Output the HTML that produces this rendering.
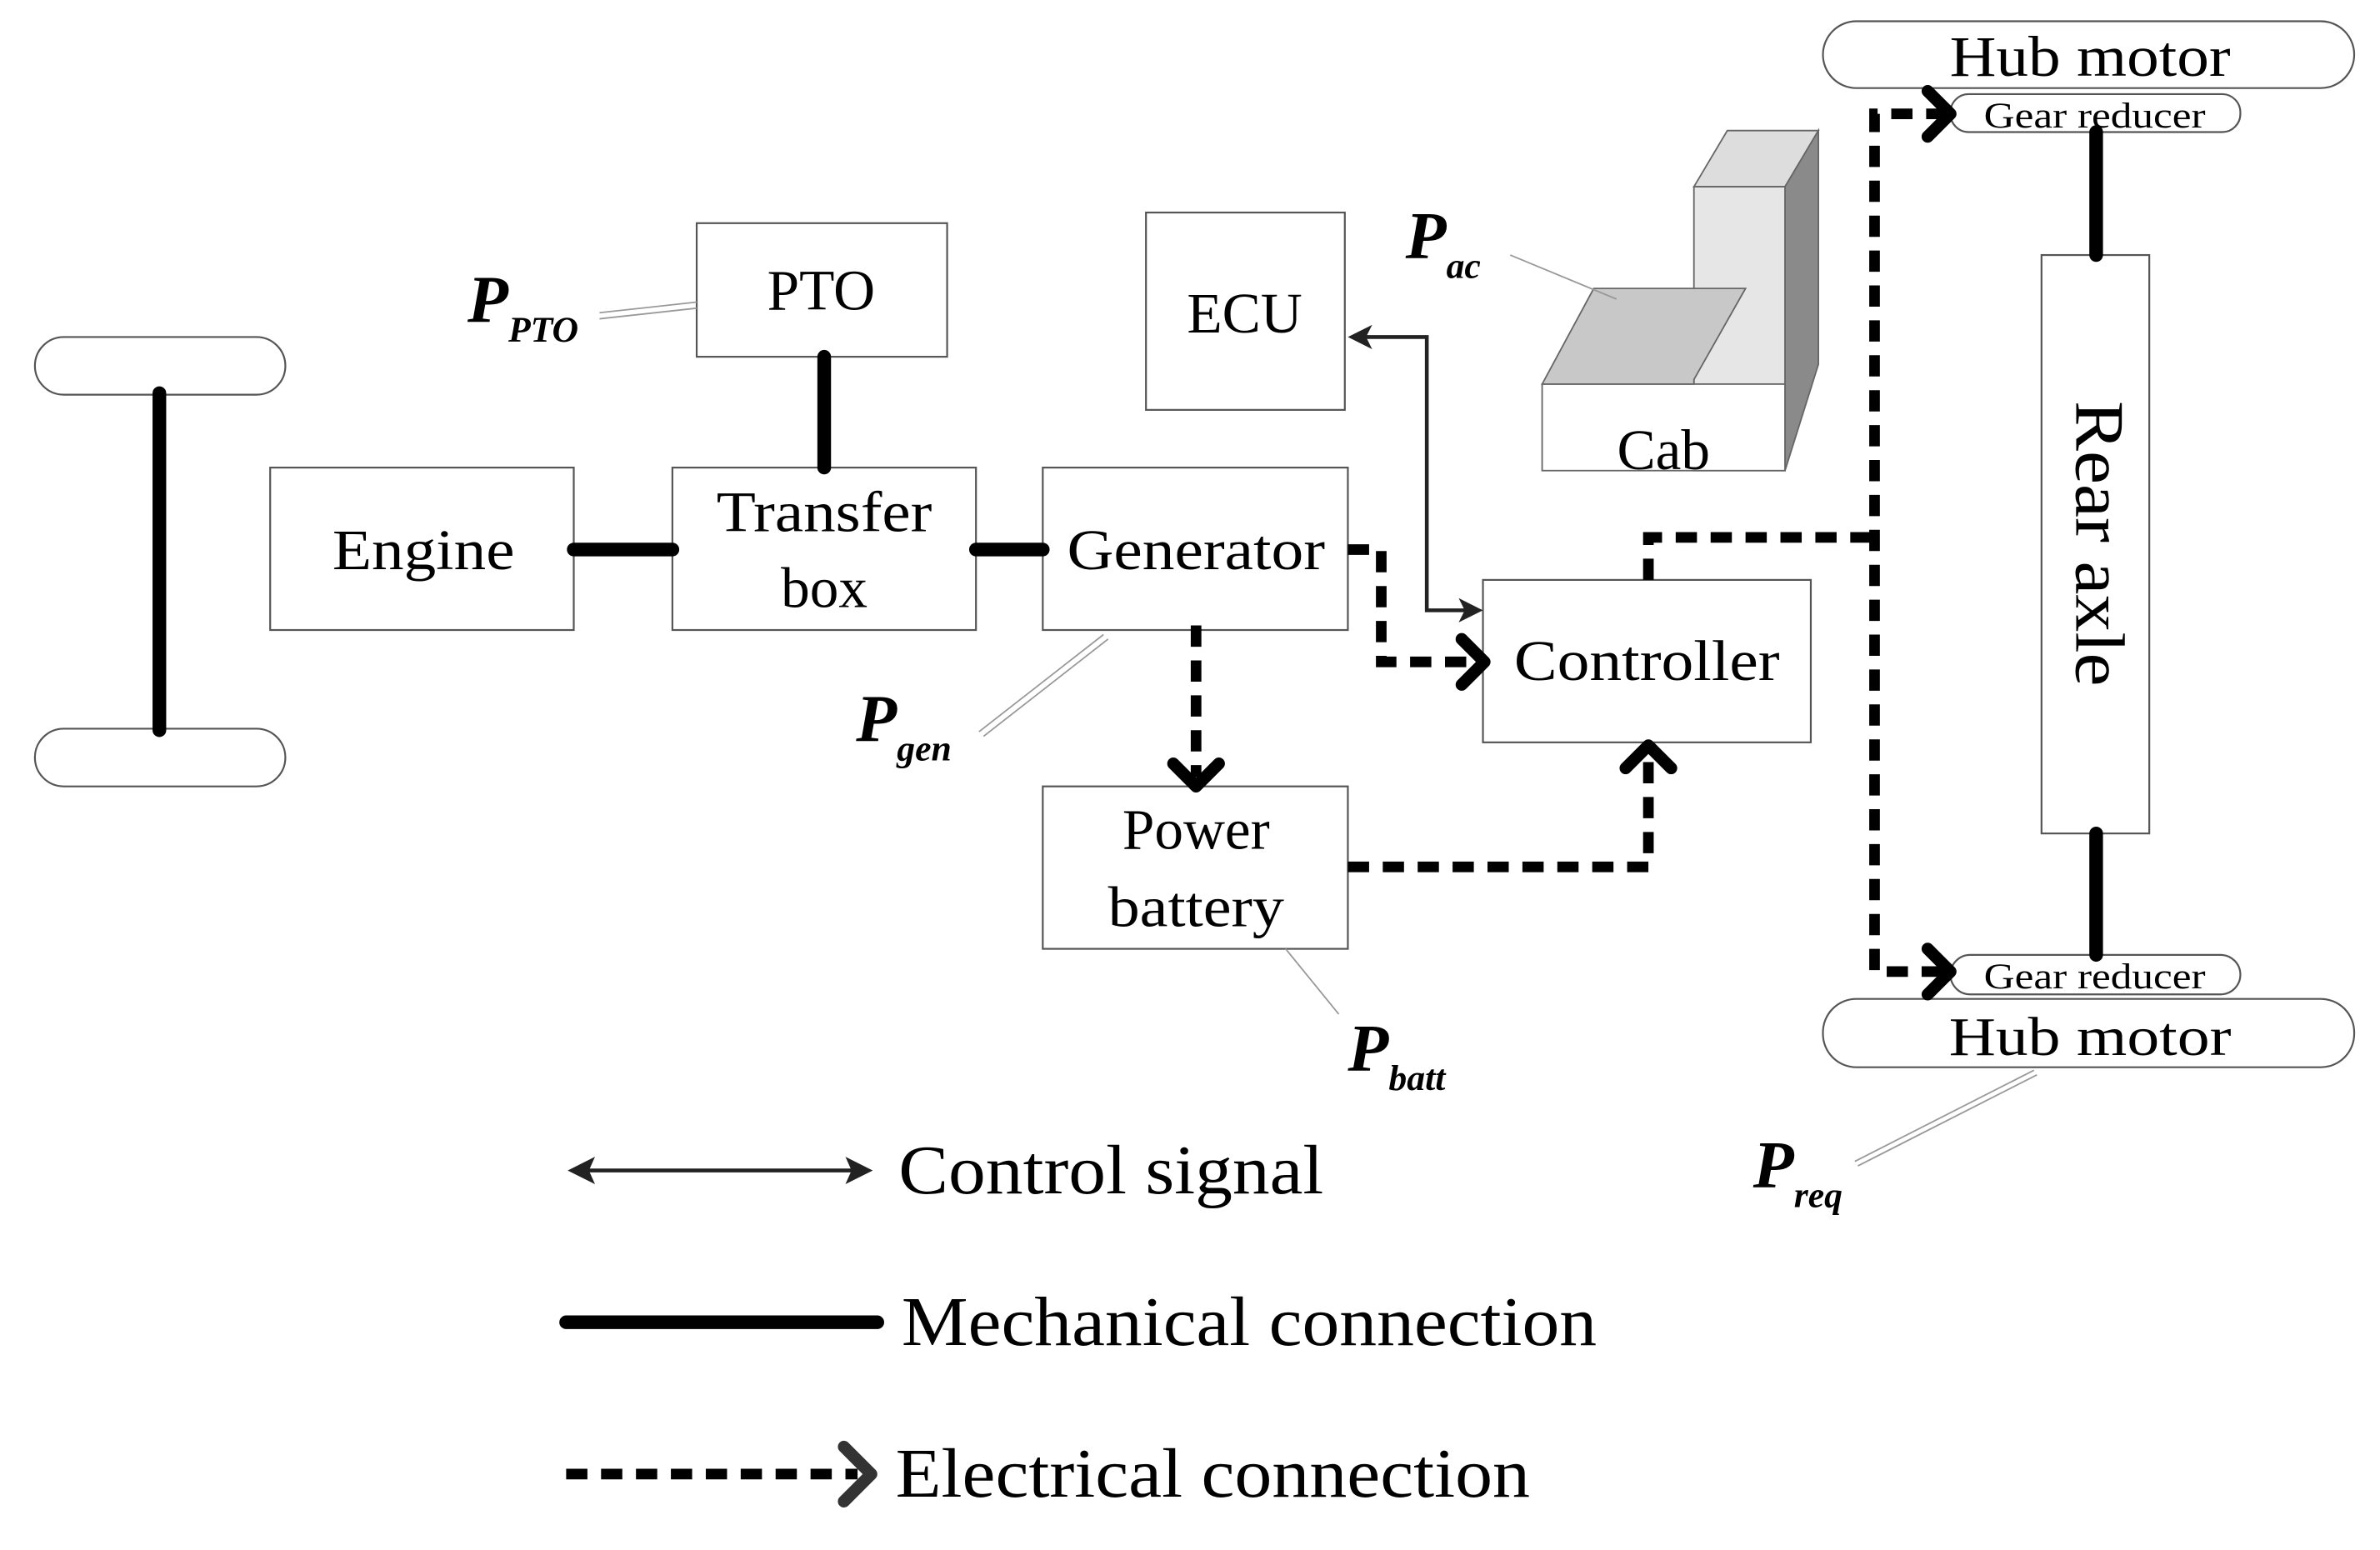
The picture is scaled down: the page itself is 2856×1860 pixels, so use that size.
<!DOCTYPE html>
<html><head><meta charset="utf-8"><style>
html,body{margin:0;padding:0;background:#fff;}
svg{display:block;}
text{font-family:"Liberation Serif",serif;fill:#000;}
</style></head><body>
<svg width="2856" height="1860" viewBox="0 0 1568 1021" preserveAspectRatio="none" xmlns="http://www.w3.org/2000/svg">
<rect width="1568" height="1021" fill="#fff"/>
<g fill="none" stroke="#555" stroke-width="1.2">
<rect x="23" y="222" width="165" height="38" rx="19"/>
<rect x="23" y="480" width="165" height="38" rx="19"/>
<rect x="178" y="308" width="200" height="107"/>
<rect x="443" y="308" width="200" height="107"/>
<rect x="459" y="147" width="165" height="88"/>
<rect x="687" y="308" width="201" height="107"/>
<rect x="755" y="140" width="131" height="130"/>
<rect x="977" y="382" width="216" height="107"/>
<rect x="687" y="518" width="201" height="107"/>
<rect x="1345" y="168" width="71" height="381"/>
<rect x="1201" y="14" width="350" height="44" rx="22"/>
<rect x="1285" y="62" width="191" height="25" rx="12"/>
<rect x="1285" y="629" width="191" height="26" rx="13"/>
<rect x="1201" y="658" width="350" height="45" rx="22"/>
</g>
<polygon points="1116,123 1138,86 1198,86 1176,123" fill="#ddd" stroke="#666" stroke-width="1"/>
<polygon points="1176,123 1198,86 1198,240 1176,310" fill="#8a8a8a" stroke="#666" stroke-width="1"/>
<rect x="1116" y="123" width="60" height="187" fill="#e6e6e6" stroke="#666" stroke-width="1"/>
<rect x="1016" y="253" width="160" height="57" fill="#fff" stroke="#666" stroke-width="1"/>
<polygon points="1016,253 1050,190 1150,190 1116,250 1116,253" fill="#c8c8c8" stroke="#666" stroke-width="1"/>
<g stroke="#000" stroke-width="9" stroke-linecap="round">
<line x1="105" y1="259" x2="105" y2="481"/>
<line x1="378" y1="362" x2="443" y2="362"/>
<line x1="643" y1="362" x2="687" y2="362"/>
<line x1="543" y1="235" x2="543" y2="308"/>
<line x1="1381" y1="87" x2="1381" y2="168"/>
<line x1="1381" y1="549" x2="1381" y2="629"/>
<line x1="373" y1="871" x2="578" y2="871"/>
</g>
<g stroke="#000" stroke-width="7" fill="none" stroke-dasharray="14 9">
<polyline points="888,362 910,362 910,436 972,436"/>
<polyline points="788,412 788,512"/>
<polyline points="888,571 1086,571 1086,496"/>
<polyline points="1086,382 1086,354 1235,354"/>
<polyline points="1283,75 1235,75 1235,640 1283,640"/>
<line x1="373" y1="971" x2="565" y2="971"/>
</g>
<g stroke="#000" stroke-width="8" fill="none" stroke-linecap="round" stroke-linejoin="round">
<polyline points="963,421 978,436 963,451"/>
<polyline points="773,503 788,518 803,503"/>
<polyline points="1071,506 1086,491 1101,506"/>
<polyline points="1270,60 1285,75 1270,90"/>
<polyline points="1270,625 1285,640 1270,655"/>
<polyline points="556,953 574,971 556,989" stroke="#333"/>
</g>
<g stroke="#222" stroke-width="2.5" fill="none">
<polyline points="896,222 940,222 940,402 968,402"/>
<line x1="383" y1="771" x2="566" y2="771"/>
</g>
<g fill="#222">
<polygon points="888,222 904,214 900,222 904,230"/>
<polygon points="977,402 961,394 965,402 961,410"/>
<polygon points="374,771 392,762 388,771 392,780"/>
<polygon points="575,771 557,762 561,771 557,780"/>
</g>
<g stroke="#999" stroke-width="1">
<line x1="395" y1="206" x2="459" y2="199"/><line x1="395" y1="210" x2="459" y2="203"/>
<line x1="995" y1="168" x2="1065" y2="197"/>
<line x1="645" y1="482" x2="727" y2="418"/><line x1="648" y1="485" x2="730" y2="421"/>
<line x1="847" y1="625" x2="882" y2="668"/>
<line x1="1222" y1="765" x2="1340" y2="705"/><line x1="1224" y1="768" x2="1342" y2="708"/>
</g>
<g font-size="38" text-anchor="middle">
<text x="279" y="375" textLength="120" lengthAdjust="spacingAndGlyphs">Engine</text>
<text x="543" y="350" textLength="142" lengthAdjust="spacingAndGlyphs">Transfer</text>
<text x="543" y="400">box</text>
<text x="541" y="204">PTO</text>
<text x="788" y="375" textLength="170" lengthAdjust="spacingAndGlyphs">Generator</text>
<text x="820" y="219">ECU</text>
<text x="1085" y="448" textLength="175" lengthAdjust="spacingAndGlyphs">Controller</text>
<text x="788" y="559">Power</text>
<text x="788" y="610" textLength="116" lengthAdjust="spacingAndGlyphs">battery</text>
<text x="1096" y="309">Cab</text>
<text x="1377" y="50" textLength="185" lengthAdjust="spacingAndGlyphs">Hub motor</text>
<text x="1377" y="695" font-family="Liberation Sans, sans-serif" font-size="36" textLength="186" lengthAdjust="spacingAndGlyphs">Hub motor</text>
<text transform="translate(1368,358) rotate(90)" font-size="46" textLength="188" lengthAdjust="spacingAndGlyphs">Rear axle</text>
</g>
<g font-size="24" text-anchor="middle">
<text x="1380" y="84" textLength="146" lengthAdjust="spacingAndGlyphs">Gear reducer</text>
<text x="1380" y="651" textLength="146" lengthAdjust="spacingAndGlyphs">Gear reducer</text>
</g>
<g font-style="italic" font-weight="bold">
<text x="308" y="212" font-size="44">P<tspan font-size="24" dy="13">PTO</tspan></text>
<text x="926" y="170" font-size="44">P<tspan font-size="24" dy="13">ac</tspan></text>
<text x="564" y="488" font-size="44">P<tspan font-size="24" dy="13">gen</tspan></text>
<text x="888" y="705" font-size="44">P<tspan font-size="24" dy="13">batt</tspan></text>
<text x="1155" y="782" font-size="44">P<tspan font-size="24" dy="13">req</tspan></text>
</g>
<g font-size="46">
<text x="592" y="786" textLength="280" lengthAdjust="spacingAndGlyphs">Control signal</text>
<text x="594" y="886" textLength="458" lengthAdjust="spacingAndGlyphs">Mechanical connection</text>
<text x="590" y="986" textLength="418" lengthAdjust="spacingAndGlyphs">Electrical connection</text>
</g>
</svg>
</body></html>
